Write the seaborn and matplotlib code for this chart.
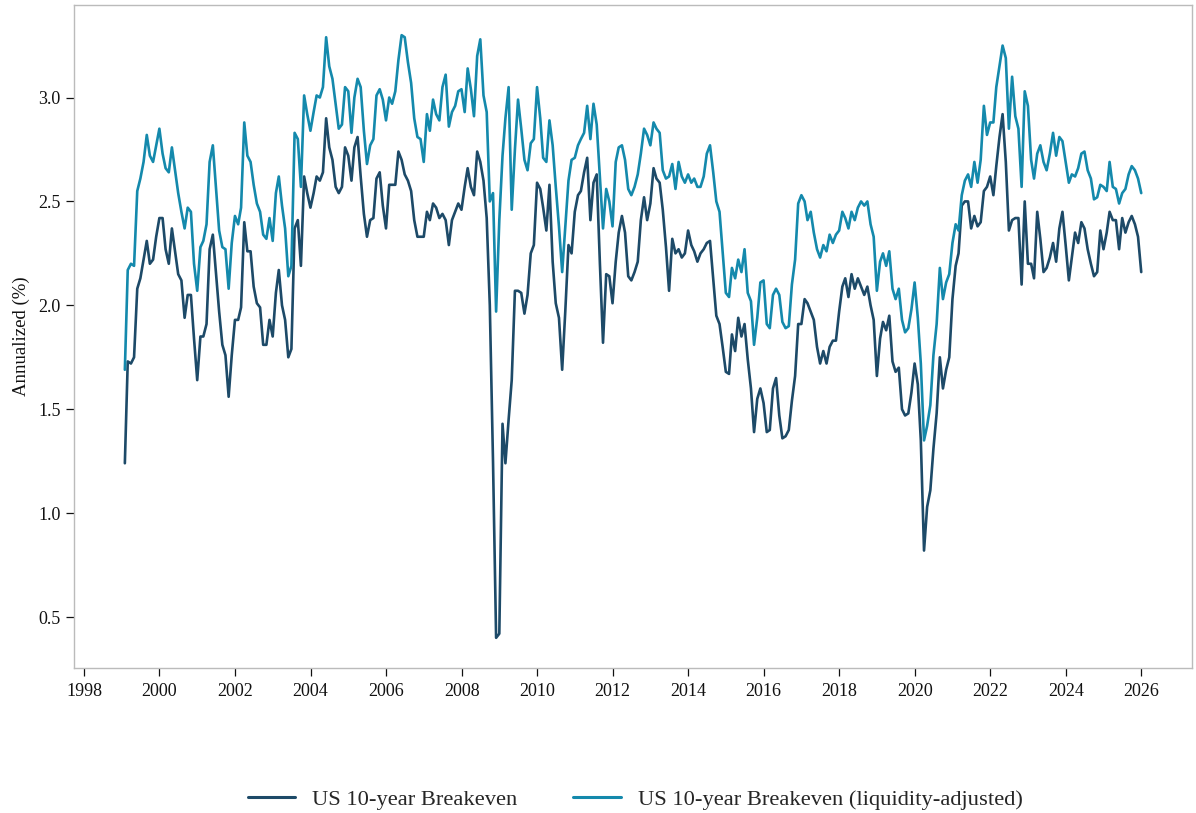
import matplotlib
matplotlib.use("Agg")
import matplotlib.pyplot as plt
import matplotlib.dates as mdates
import numpy as np
import pandas as pd
import seaborn as sns

# Monthly observations, Jan 1999 - Dec 2025 (percent, annualized)
breakeven = [
    # 1999
    1.24, 1.73, 1.72, 1.75, 2.08, 2.13, 2.22, 2.31, 2.20, 2.22, 2.33, 2.42,
    # 2000
    2.42, 2.27, 2.20, 2.37, 2.26, 2.15, 2.12, 1.94, 2.05, 2.05, 1.84, 1.64,
    # 2001
    1.85, 1.85, 1.91, 2.27, 2.34, 2.16, 1.97, 1.81, 1.76, 1.56, 1.76, 1.93,
    # 2002
    1.93, 1.99, 2.40, 2.26, 2.26, 2.09, 2.01, 1.99, 1.81, 1.81, 1.93, 1.85,
    # 2003
    2.06, 2.17, 2.00, 1.93, 1.75, 1.79, 2.37, 2.41, 2.19, 2.62, 2.54, 2.47,
    # 2004
    2.54, 2.62, 2.60, 2.64, 2.90, 2.76, 2.70, 2.57, 2.54, 2.57, 2.76, 2.72,
    # 2005
    2.60, 2.76, 2.81, 2.62, 2.44, 2.33, 2.41, 2.42, 2.61, 2.64, 2.48, 2.37,
    # 2006
    2.58, 2.58, 2.58, 2.74, 2.70, 2.63, 2.60, 2.55, 2.41, 2.33, 2.33, 2.33,
    # 2007
    2.45, 2.41, 2.49, 2.47, 2.42, 2.44, 2.41, 2.29, 2.41, 2.45, 2.49, 2.46,
    # 2008
    2.57, 2.66, 2.57, 2.53, 2.74, 2.69, 2.60, 2.42, 2.00, 1.25, 0.40, 0.42,
    # 2009
    1.43, 1.24, 1.45, 1.64, 2.07, 2.07, 2.06, 1.96, 2.05, 2.25, 2.29, 2.59,
    # 2010
    2.56, 2.47, 2.36, 2.58, 2.21, 2.01, 1.94, 1.69, 1.97, 2.29, 2.25, 2.45,
    # 2011
    2.53, 2.55, 2.64, 2.71, 2.41, 2.59, 2.63, 2.20, 1.82, 2.15, 2.14, 2.01,
    # 2012
    2.21, 2.35, 2.43, 2.35, 2.14, 2.12, 2.16, 2.21, 2.41, 2.52, 2.41, 2.49,
    # 2013
    2.66, 2.61, 2.59, 2.46, 2.28, 2.07, 2.32, 2.25, 2.27, 2.23, 2.25, 2.36,
    # 2014
    2.29, 2.26, 2.21, 2.25, 2.27, 2.30, 2.31, 2.13, 1.95, 1.91, 1.80, 1.68,
    # 2015
    1.67, 1.86, 1.78, 1.94, 1.85, 1.91, 1.74, 1.60, 1.39, 1.55, 1.60, 1.53,
    # 2016
    1.39, 1.40, 1.60, 1.65, 1.47, 1.36, 1.37, 1.40, 1.54, 1.66, 1.91, 1.91,
    # 2017
    2.03, 2.01, 1.97, 1.93, 1.80, 1.72, 1.78, 1.72, 1.80, 1.83, 1.83, 1.97,
    # 2018
    2.09, 2.13, 2.04, 2.15, 2.08, 2.13, 2.09, 2.05, 2.09, 2.00, 1.93, 1.66,
    # 2019
    1.84, 1.92, 1.88, 1.95, 1.73, 1.68, 1.70, 1.50, 1.47, 1.48, 1.58, 1.72,
    # 2020
    1.62, 1.35, 0.82, 1.03, 1.11, 1.31, 1.48, 1.75, 1.60, 1.69, 1.75, 2.03,
    # 2021
    2.19, 2.25, 2.48, 2.50, 2.50, 2.37, 2.43, 2.38, 2.40, 2.55, 2.57, 2.62,
    # 2022
    2.53, 2.67, 2.81, 2.92, 2.69, 2.36, 2.41, 2.42, 2.42, 2.10, 2.50, 2.20,
    # 2023
    2.20, 2.13, 2.45, 2.32, 2.16, 2.18, 2.23, 2.30, 2.21, 2.37, 2.45, 2.29,
    # 2024
    2.12, 2.23, 2.35, 2.30, 2.40, 2.37, 2.27, 2.20, 2.14, 2.16, 2.36, 2.27,
    # 2025
    2.35, 2.45, 2.41, 2.41, 2.27, 2.42, 2.35, 2.40, 2.43, 2.39, 2.33, 2.16,
]

breakeven_liq_adj = [
    # 1999
    1.69, 2.17, 2.20, 2.19, 2.55, 2.61, 2.69, 2.82, 2.72, 2.69, 2.77, 2.85,
    # 2000
    2.73, 2.66, 2.64, 2.76, 2.65, 2.54, 2.45, 2.37, 2.47, 2.45, 2.20, 2.07,
    # 2001
    2.28, 2.31, 2.39, 2.69, 2.77, 2.57, 2.36, 2.28, 2.27, 2.08, 2.30, 2.43,
    # 2002
    2.39, 2.47, 2.88, 2.72, 2.69, 2.58, 2.49, 2.45, 2.34, 2.32, 2.42, 2.31,
    # 2003
    2.54, 2.62, 2.48, 2.37, 2.14, 2.19, 2.83, 2.80, 2.57, 3.01, 2.92, 2.84,
    # 2004
    2.93, 3.01, 3.00, 3.05, 3.29, 3.15, 3.09, 2.97, 2.85, 2.87, 3.05, 3.03,
    # 2005
    2.83, 3.00, 3.09, 3.05, 2.84, 2.68, 2.77, 2.80, 3.01, 3.04, 2.99, 2.89,
    # 2006
    3.00, 2.97, 3.03, 3.18, 3.30, 3.29, 3.17, 3.07, 2.90, 2.81, 2.80, 2.69,
    # 2007
    2.92, 2.84, 2.99, 2.92, 2.89, 3.05, 3.11, 2.86, 2.93, 2.96, 3.03, 3.04,
    # 2008
    2.93, 3.14, 3.04, 2.91, 3.20, 3.28, 3.01, 2.93, 2.50, 2.54, 1.97, 2.41,
    # 2009
    2.72, 2.90, 3.05, 2.46, 2.75, 2.99, 2.85, 2.70, 2.65, 2.78, 2.80, 3.05,
    # 2010
    2.90, 2.71, 2.69, 2.89, 2.77, 2.57, 2.38, 2.16, 2.38, 2.60, 2.70, 2.71,
    # 2011
    2.77, 2.80, 2.83, 2.96, 2.80, 2.97, 2.87, 2.62, 2.37, 2.56, 2.50, 2.38,
    # 2012
    2.69, 2.76, 2.77, 2.70, 2.56, 2.53, 2.57, 2.63, 2.73, 2.85, 2.82, 2.77,
    # 2013
    2.88, 2.85, 2.83, 2.65, 2.61, 2.62, 2.68, 2.56, 2.69, 2.62, 2.59, 2.63,
    # 2014
    2.59, 2.61, 2.57, 2.57, 2.62, 2.73, 2.77, 2.64, 2.50, 2.45, 2.26, 2.06,
    # 2015
    2.04, 2.18, 2.13, 2.22, 2.16, 2.27, 2.06, 2.02, 1.81, 1.94, 2.11, 2.12,
    # 2016
    1.91, 1.89, 2.05, 2.08, 2.05, 1.92, 1.89, 1.90, 2.10, 2.22, 2.49, 2.53,
    # 2017
    2.50, 2.41, 2.45, 2.35, 2.27, 2.23, 2.29, 2.26, 2.34, 2.30, 2.34, 2.36,
    # 2018
    2.45, 2.42, 2.37, 2.45, 2.41, 2.47, 2.50, 2.48, 2.50, 2.39, 2.33, 2.07,
    # 2019
    2.21, 2.25, 2.19, 2.26, 2.08, 2.03, 2.08, 1.93, 1.87, 1.89, 1.98, 2.11,
    # 2020
    1.94, 1.72, 1.35, 1.42, 1.52, 1.76, 1.91, 2.18, 2.03, 2.11, 2.15, 2.30,
    # 2021
    2.39, 2.36, 2.53, 2.60, 2.63, 2.57, 2.69, 2.59, 2.70, 2.96, 2.82, 2.88,
    # 2022
    2.88, 3.05, 3.15, 3.25, 3.19, 2.85, 3.10, 2.91, 2.85, 2.57, 3.03, 2.96,
    # 2023
    2.70, 2.61, 2.73, 2.77, 2.69, 2.65, 2.73, 2.83, 2.72, 2.81, 2.79, 2.69,
    # 2024
    2.59, 2.63, 2.62, 2.66, 2.73, 2.74, 2.65, 2.61, 2.51, 2.52, 2.58, 2.57,
    # 2025
    2.55, 2.69, 2.57, 2.56, 2.49, 2.54, 2.56, 2.63, 2.67, 2.65, 2.61, 2.54,
]

series_names = ["US 10-year Breakeven", "US 10-year Breakeven (liquidity-adjusted)"]
series_colors = ["#1d4a68", "#1489ac"]

dates = pd.date_range("1999-01-31", periods=len(breakeven), freq="ME")

df = pd.concat([
    pd.DataFrame({"date": dates, "value": breakeven, "series": series_names[0]}),
    pd.DataFrame({"date": dates, "value": breakeven_liq_adj, "series": series_names[1]}),
], ignore_index=True)

sns.set_theme(style="ticks")
plt.rcParams["font.family"] = ["Liberation Serif", "DejaVu Serif"]

fig = plt.figure(figsize=(11.96, 8.13), dpi=100)
ax = fig.add_axes([0.0619, 0.1784, 0.9348, 0.8154])

sns.lineplot(data=df, x="date", y="value", hue="series",
             hue_order=series_names, palette=series_colors,
             linewidth=1.9, ax=ax, legend=False)

ax.xaxis.set_major_locator(mdates.YearLocator(2))
ax.xaxis.set_major_formatter(mdates.DateFormatter("%Y"))
ax.set_yticks([0.5, 1.0, 1.5, 2.0, 2.5, 3.0])
ax.yaxis.set_major_formatter(matplotlib.ticker.FormatStrFormatter("%.1f"))
ax.set_xlabel("")
ax.set_ylabel("Annualized (%)", fontsize=13.5, color="#111111", labelpad=6)
ax.tick_params(axis="both", labelsize=13, colors="#111111", length=6, width=0.9,
               direction="out")
ax.tick_params(axis="x", pad=5)
for side in ["top", "right", "bottom", "left"]:
    ax.spines[side].set_visible(True)
    ax.spines[side].set_color("#bbbbbb")
    ax.spines[side].set_linewidth(1.0)

handles = [matplotlib.lines.Line2D([], [], color=c, linewidth=2.2) for c in series_colors]
fig.legend(handles, series_names, loc="center", bbox_to_anchor=(0.531, 0.016),
           ncol=2, frameon=False, fontsize=16.2, handlelength=2.1,
           columnspacing=2.5, handletextpad=0.75)

fig.savefig("out.png", dpi=100)
